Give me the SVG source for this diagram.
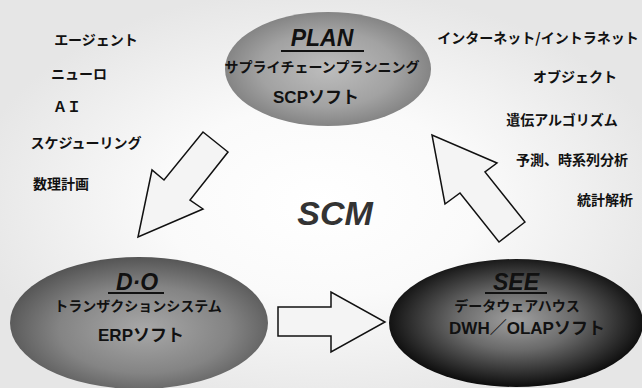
<svg xmlns="http://www.w3.org/2000/svg" width="642" height="388" viewBox="0 0 642 388">
<defs>
<radialGradient id="bg" cx="50%" cy="52%" r="55%">
<stop offset="0" stop-color="#ffffff"/>
<stop offset="0.45" stop-color="#fafafa"/>
<stop offset="1" stop-color="#e6e6e6"/>
</radialGradient>
<radialGradient id="gPlan" cx="50%" cy="50%" r="55%">
<stop offset="0" stop-color="#bdbdbd"/>
<stop offset="0.6" stop-color="#a2a2a2"/>
<stop offset="1" stop-color="#7c7c7c"/>
</radialGradient>
<radialGradient id="gDo" cx="52%" cy="55%" r="55%">
<stop offset="0" stop-color="#a8a8a8"/>
<stop offset="0.6" stop-color="#848484"/>
<stop offset="1" stop-color="#555555"/>
</radialGradient>
<radialGradient id="gSee" cx="50%" cy="48%" r="52%">
<stop offset="0" stop-color="#a0a0a0"/>
<stop offset="0.45" stop-color="#6a6a6a"/>
<stop offset="1" stop-color="#0c0c0c"/>
</radialGradient>
<style>
.side{font-family:"Noto Sans CJK JP","Noto Sans CJK SC",sans-serif;font-weight:bold;font-size:14px;fill:#111;text-anchor:middle}
.title{font-family:"Liberation Sans",Arial,sans-serif;font-weight:bold;font-style:italic;font-size:23px;fill:#111;text-anchor:middle}
.sub{font-family:"Noto Sans CJK JP","Noto Sans CJK SC",sans-serif;font-weight:bold;font-size:14px;fill:#111;text-anchor:middle}
.soft{font-family:"Liberation Sans","Noto Sans CJK JP",sans-serif;font-weight:bold;font-size:17px;fill:#111;text-anchor:middle}
.ul{stroke:#111;stroke-width:2}
.arrow{fill:#f4f4f4;stroke:#111;stroke-width:1.5;stroke-linejoin:miter}
</style>
</defs>
<rect width="642" height="388" fill="url(#bg)"/>

<g id="left-labels">
<text class="side" x="96" y="45">エージェント</text>
<text class="side" x="79" y="79">ニューロ</text>
<text class="side" x="67" y="112">ＡＩ</text>
<text class="side" x="86" y="148">スケジューリング</text>
<text class="side" x="61" y="189" font-size="16">数理計画</text>
</g>

<g id="right-labels">
<text class="side" x="538" y="43" font-size="13.6">インターネット/イントラネット</text>
<text class="side" x="575" y="82" font-size="13.5">オブジェクト</text>
<text class="side" x="562" y="125" font-size="15">遺伝アルゴリズム</text>
<text class="side" x="572" y="165" font-size="16">予測、時系列分析</text>
<text class="side" x="605" y="205" font-size="16">統計解析</text>
</g>

<g id="connectors">
<polygon class="arrow" points="203,132 228,152 190,200 203,209 138,237 152,170 164,180"/>
<polygon class="arrow" points="278,307 331,307 331,292 385,322 331,352 331,336 278,336"/>
<polygon class="arrow" points="525,222 499,242 460,193 445,204 432,135 497,163 485,172"/>
</g>

<g id="node-plan">
<ellipse cx="328" cy="69" rx="103" ry="57" fill="url(#gPlan)"/>
<text class="title" x="322" y="46">PLAN</text>
<line class="ul" x1="281" y1="51" x2="364" y2="51"/>
<text class="sub" x="322" y="72">サプライチェーンプランニング</text>
<text class="soft" x="316" y="103">SCPソフト</text>
</g>

<g id="node-do">
<ellipse cx="139" cy="323" rx="129" ry="66" fill="url(#gDo)"/>
<text class="title" x="137" y="290">D·O</text>
<line class="ul" x1="108" y1="293" x2="164" y2="293"/>
<text class="sub" x="138" y="311" font-size="15">トランザクションシステム</text>
<text class="soft" x="141" y="341">ERPソフト</text>
</g>

<g id="node-see">
<ellipse cx="516" cy="323" rx="127" ry="64" fill="url(#gSee)"/>
<text class="title" x="516" y="290">SEE</text>
<line class="ul" x1="485" y1="293" x2="547" y2="293"/>
<text class="sub" x="517" y="311">データウェアハウス</text>
<text class="soft" x="527" y="334">DWH／OLAPソフト</text>
</g>

<g id="center-label">
<text x="335" y="225" font-family="'Liberation Sans',Arial,sans-serif" font-weight="bold" font-style="italic" font-size="34" fill="#333" text-anchor="middle">SCM</text>
</g>
</svg>
